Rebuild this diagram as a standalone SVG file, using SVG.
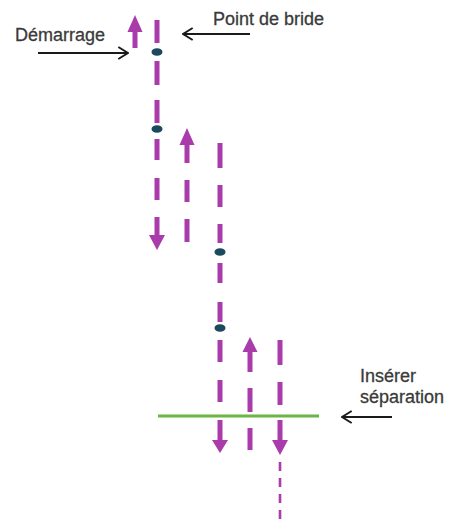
<svg xmlns="http://www.w3.org/2000/svg" width="449" height="526" viewBox="0 0 449 526">
  <style>
    .dash { stroke: #AA3BAA; stroke-width: 5; fill: none; }
    .head { fill: #AA3BAA; }
    .dot { fill: #1B4A5E; }
    .lbl { font-family: "Liberation Sans", Arial, sans-serif; font-size: 18px; fill: #3a3a3a; stroke: #3a3a3a; stroke-width: 0.3; }
    .ptr { stroke: #1a1a1a; stroke-width: 2.2; fill: none; }
  </style>
  <defs>
    <marker id="chev" viewBox="0 0 10 12" refX="9" refY="6" markerWidth="5.5" markerHeight="6.6" orient="auto" markerUnits="strokeWidth">
      <path d="M1,1 L9,6 L1,11" fill="none" stroke="#1a1a1a" stroke-width="1.6"/>
    </marker>
  </defs>
  <rect width="449" height="526" fill="#ffffff"/>

  <g id="col1">
    <line class="dash" x1="157" y1="20" x2="157" y2="43"/>
    <line class="dash" x1="157" y1="61" x2="157" y2="85"/>
    <line class="dash" x1="157" y1="100" x2="157" y2="123"/>
    <line class="dash" x1="157" y1="139" x2="157" y2="160"/>
    <line class="dash" x1="157" y1="178" x2="157" y2="200"/>
    <line class="dash" x1="157" y1="217" x2="157" y2="236"/>
    <polygon class="head" points="149,235 165,235 157,250"/>
    <ellipse class="dot" cx="157" cy="52" rx="5.5" ry="3.8"/>
    <ellipse class="dot" cx="157" cy="129" rx="5.5" ry="3.8"/>
  </g>

  <g id="start-arrow">
    <line class="dash" x1="135" y1="48" x2="135" y2="31"/>
    <polygon class="head" points="127.5,32 142.5,32 135,15"/>
  </g>

  <g id="col2">
    <line class="dash" x1="187" y1="163" x2="187" y2="144"/>
    <polygon class="head" points="179.5,145 194.5,145 187,128"/>
    <line class="dash" x1="187" y1="180" x2="187" y2="202"/>
    <line class="dash" x1="187" y1="219" x2="187" y2="242"/>
  </g>

  <g id="col3">
    <line class="dash" x1="220" y1="143" x2="220" y2="168"/>
    <line class="dash" x1="220" y1="185" x2="220" y2="207"/>
    <line class="dash" x1="220" y1="224" x2="220" y2="243"/>
    <line class="dash" x1="220" y1="263" x2="220" y2="283"/>
    <line class="dash" x1="220" y1="302" x2="220" y2="322"/>
    <line class="dash" x1="220" y1="340" x2="220" y2="362"/>
    <line class="dash" x1="220" y1="380" x2="220" y2="402"/>
    <line class="dash" x1="220" y1="420" x2="220" y2="441"/>
    <polygon class="head" points="212,440 228,440 220,453"/>
    <ellipse class="dot" cx="220" cy="252" rx="5.5" ry="3.8"/>
    <ellipse class="dot" cx="220" cy="328" rx="5.5" ry="3.8"/>
  </g>

  <g id="col4">
    <line class="dash" x1="250" y1="372" x2="250" y2="351"/>
    <polygon class="head" points="242.5,352 257.5,352 250,337"/>
    <line class="dash" x1="250" y1="388" x2="250" y2="412"/>
    <line class="dash" x1="250" y1="428" x2="250" y2="450"/>
  </g>

  <g id="col5">
    <line class="dash" x1="280" y1="340" x2="280" y2="365"/>
    <line class="dash" x1="280" y1="382" x2="280" y2="405"/>
    <line class="dash" x1="280" y1="420" x2="280" y2="441"/>
    <polygon class="head" points="272,440 288,440 280,455"/>
    <line x1="280" y1="462" x2="280" y2="520" stroke="#AA3BAA" stroke-width="2.6" stroke-dasharray="9 7"/>
  </g>

  <g id="separation-line">
    <line x1="158" y1="416" x2="319" y2="416" stroke="#6BB545" stroke-width="3"/>
  </g>

  <g id="label-demarrage">
    <text class="lbl" x="15" y="41">Démarrage</text>
  </g>
  <g id="label-bride">
    <text class="lbl" x="213" y="25">Point de bride</text>
  </g>
  <g id="label-separation">
    <text class="lbl" x="360" y="382">Insérer</text>
    <text class="lbl" x="360" y="403">séparation</text>
  </g>

  <g id="connectors">
    <line class="ptr" x1="38" y1="53" x2="128" y2="53" marker-end="url(#chev)"/>
    <line class="ptr" x1="250" y1="34" x2="183" y2="34" marker-end="url(#chev)"/>
    <line class="ptr" x1="392" y1="417" x2="342" y2="417" marker-end="url(#chev)"/>
  </g>
</svg>
